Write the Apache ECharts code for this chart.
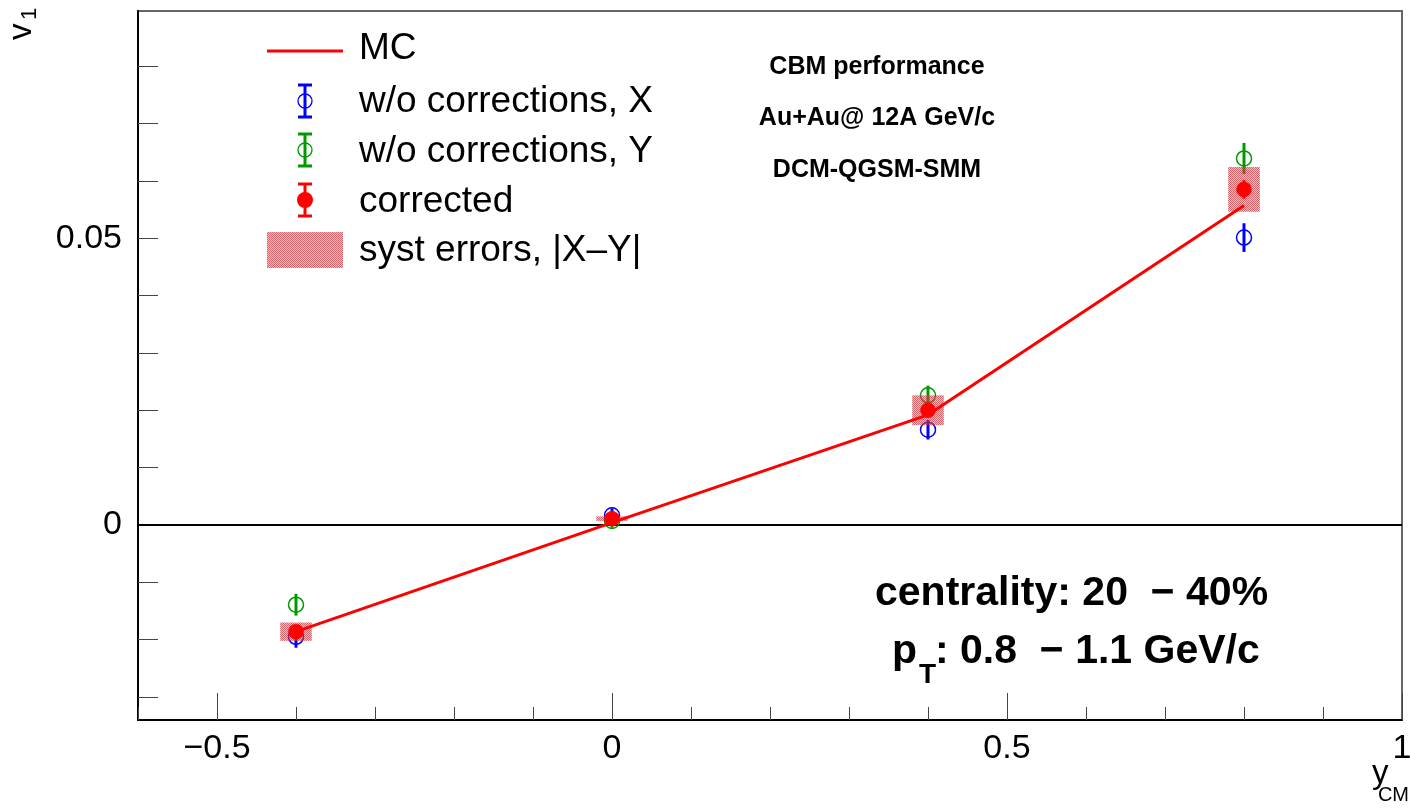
<!DOCTYPE html>
<html>
<head>
<meta charset="utf-8">
<script src="https://cdn.jsdelivr.net/npm/echarts@6/dist/echarts.min.js"></script>
<style>
html,body{margin:0;padding:0;background:#fff;overflow:hidden;}
#chart{width:1410px;height:809px;}
</style>
</head>
<body>
<div id="chart"></div>
<script>
// ---- data ----
const rapidity   = [-0.4, 0, 0.4, 0.8];
const mcV1       = [-0.0186, 0.0004, 0.0192, 0.0557];
const corrV1     = [-0.0186, 0.0011, 0.0200, 0.0585];
const corrErr    = [0.0010, 0.0008, 0.0012, 0.0016];
const xV1        = [-0.0195, 0.0017, 0.0166, 0.0501];
const xErr       = [0.0019, 0.0012, 0.0017, 0.0025];
const yV1        = [-0.0139, 0.0007, 0.0226, 0.0639];
const yErr       = [0.0019, 0.0012, 0.0017, 0.0027];
const systHalf   = [0.0016, 0.0004, 0.0026, 0.0039];
const xMajorTicks = [-0.5, 0, 0.5, 1];
const xMinorTicks = [-0.6,-0.5,-0.4,-0.3,-0.2,-0.1,0,0.1,0.2,0.3,0.4,0.5,0.6,0.7,0.8,0.9,1.0];
const yTicks      = [-0.03,-0.02,-0.01,0,0.01,0.02,0.03,0.04,0.05,0.06,0.07,0.08];
const yLabels     = [0, 0.05];

const FONT = "'Liberation Sans', Arial, Helvetica, sans-serif";
const BOX_HALF_W = 0.02;

// hatched fill pattern for the systematic boxes
const pc = document.createElement('canvas');
pc.width = 2; pc.height = 2;
const pctx = pc.getContext('2d');
pctx.fillStyle = 'rgba(200,110,115,0.45)'; pctx.fillRect(0,1,1,1); pctx.fillRect(1,0,1,1);
pctx.fillStyle = 'rgba(190,40,50,0.7)'; pctx.fillRect(0,0,1,1); pctx.fillRect(1,1,1,1);
const hatch = {image: pc, repeat: 'repeat'};

const chart = echarts.init(document.getElementById('chart'), null, {renderer:'canvas'});

function fmt(v){ return (v < 0 ? '\u2212' : '') + String(Math.abs(v)); }

function errRender(color, filled){
  return function(params, api){
    const x = api.value(0), y = api.value(1), e = api.value(2);
    const c = api.coord([x, y]);
    const t = api.coord([x, y + e]);
    const b = api.coord([x, y - e]);
    return {
      type: 'group',
      children: [
        {type:'line', shape:{x1:c[0], y1:t[1], x2:c[0], y2:b[1]}, style:{stroke:color, lineWidth:3}},
        {type:'circle', shape:{cx:c[0], cy:c[1], r:7.5},
         style: filled ? {fill:color, stroke:color, lineWidth:0.5} : {fill:null, stroke:color, lineWidth:1.5}}
      ]
    };
  };
}

function boxRender(params, api){
  const x = api.value(0), y = api.value(1), s = api.value(2);
  const p1 = api.coord([x - BOX_HALF_W, y + s]);
  const p2 = api.coord([x + BOX_HALF_W, y - s]);
  return {
    type:'rect',
    shape:{x:p1[0], y:p1[1], width:p2[0]-p1[0], height:p2[1]-p1[1]},
    style:{fill:hatch}
  };
}

const tri = (vals, errs) => rapidity.map((x,i) => [x, vals[i], errs[i]]);

// legend graphics
const LX = 305;
function legendErr(cy, color, filled){
  return [
    {type:'line', shape:{x1:LX, y1:cy-16, x2:LX, y2:cy+16}, style:{stroke:color, lineWidth:3}},
    {type:'line', shape:{x1:LX-7, y1:cy-16, x2:LX+7, y2:cy-16}, style:{stroke:color, lineWidth:3}},
    {type:'line', shape:{x1:LX-7, y1:cy+16, x2:LX+7, y2:cy+16}, style:{stroke:color, lineWidth:3}},
    {type:'circle', shape:{cx:LX, cy:cy, r:filled?8:7},
     style: filled ? {fill:color} : {fill:null, stroke:color, lineWidth:1.3}}
  ];
}
function ltext(y, s){
  return {type:'text', x:359, y:y, style:{text:s, font:'37px ' + FONT, fill:'#000', textAlign:'left', textVerticalAlign:'middle'}};
}
function btext(x, y, s, size, align){
  return {type:'text', x:x, y:y, style:{text:s, font:'bold ' + size + 'px ' + FONT, fill:'#000', textAlign:align, textVerticalAlign:'middle'}};
}
const graphics = [
  {type:'line', shape:{x1:267, y1:51, x2:343, y2:51}, style:{stroke:'#ff0000', lineWidth:3}},
  ...legendErr(101, '#0000ff', false),
  ...legendErr(150, '#009900', false),
  ...legendErr(200, '#ff0000', true),
  {type:'rect', shape:{x:267, y:232, width:76, height:36}, style:{fill:hatch}},
  ltext(49, 'MC'),
  ltext(102, 'w/o corrections, X'),
  ltext(152, 'w/o corrections, Y'),
  ltext(202, 'corrected'),
  ltext(251, 'syst errors, |X\u2013Y|'),
  // top labels
  btext(877, 67, 'CBM performance', 25, 'center'),
  btext(877, 118, 'Au+Au@ 12A GeV/c', 25, 'center'),
  btext(877, 170, 'DCM-QGSM-SMM', 25, 'center'),
  // centrality / pT
  btext(875, 594, 'centrality: 20  \u2212 40%', 41, 'left'),
  btext(892, 652, 'p', 41, 'left'),
  btext(919, 675, 'T', 28, 'left'),
  btext(935, 652, ': 0.8  \u2212 1.1 GeV/c', 41, 'left'),
  // axis titles
  {type:'text', x:22, y:40, rotation:Math.PI/2, style:{text:'v', font:'33px ' + FONT, fill:'#000', textAlign:'left', textVerticalAlign:'middle'}},
  {type:'text', x:30, y:20, rotation:Math.PI/2, style:{text:'1', font:'22px ' + FONT, fill:'#000', textAlign:'left', textVerticalAlign:'middle'}},
  {type:'text', x:1372, y:774, style:{text:'y', font:'33px ' + FONT, fill:'#000', textAlign:'left', textVerticalAlign:'middle'}},
  {type:'text', x:1409, y:795, style:{text:'CM', font:'20px ' + FONT, fill:'#000', textAlign:'right', textVerticalAlign:'middle'}}
];

const option = {
  animation:false,
  backgroundColor:'#fff',
  grid:{left:138, top:11, width:1264, height:709, outerBoundsMode:'none', containLabel:false,
        show:true, borderColor:'#666', borderWidth:2, backgroundColor:'transparent'},
  xAxis:[
    {type:'value', min:-0.6, max:1.0, position:'bottom',
     axisLine:{show:true, onZero:false, lineStyle:{color:'#000', width:2}},
     axisTick:{show:true, inside:true, length:27, customValues:xMajorTicks, lineStyle:{color:'#444', width:1}},
     axisLabel:{show:true, customValues:xMajorTicks, formatter:fmt, margin:12, color:'#000', fontSize:34, fontFamily:FONT},
     splitLine:{show:false}},
    {type:'value', min:-0.6, max:1.0, position:'bottom',
     axisLine:{show:false, onZero:false},
     axisTick:{show:true, inside:true, length:13, customValues:xMinorTicks, lineStyle:{color:'#444', width:1}},
     axisLabel:{show:false},
     splitLine:{show:false}}
  ],
  yAxis:{type:'value', min:-0.034, max:0.0896,
     axisLine:{show:true, onZero:false, lineStyle:{color:'#000', width:2}},
     axisTick:{show:true, inside:true, length:20, customValues:yTicks, lineStyle:{color:'#444', width:1}},
     axisLabel:{show:true, customValues:yLabels, formatter:fmt, margin:16, color:'#000', fontSize:34, fontFamily:FONT},
     splitLine:{show:false}},
  series:[
    {name:'w/o corrections, X', type:'custom', renderItem:errRender('#0000ff', false), data:tri(xV1, xErr), z:2,
     markLine:{silent:true, symbol:'none', label:{show:false}, lineStyle:{color:'#000', width:2, type:'solid'}, data:[{yAxis:0}], z:1}},
    {name:'w/o corrections, Y', type:'custom', renderItem:errRender('#009900', false), data:tri(yV1, yErr), z:2},
    {name:'syst errors', type:'custom', renderItem:boxRender, data:tri(corrV1, systHalf), z:3},
    {name:'MC', type:'line', data:rapidity.map((x,i)=>[x, mcV1[i]]), showSymbol:false, symbol:'none',
     lineStyle:{color:'#ff0000', width:3}, z:4},
    {name:'corrected', type:'custom', renderItem:errRender('#ff0000', true), data:tri(corrV1, corrErr), z:5}
  ],
  graphic:graphics
};
chart.setOption(option);
</script>
</body>
</html>
